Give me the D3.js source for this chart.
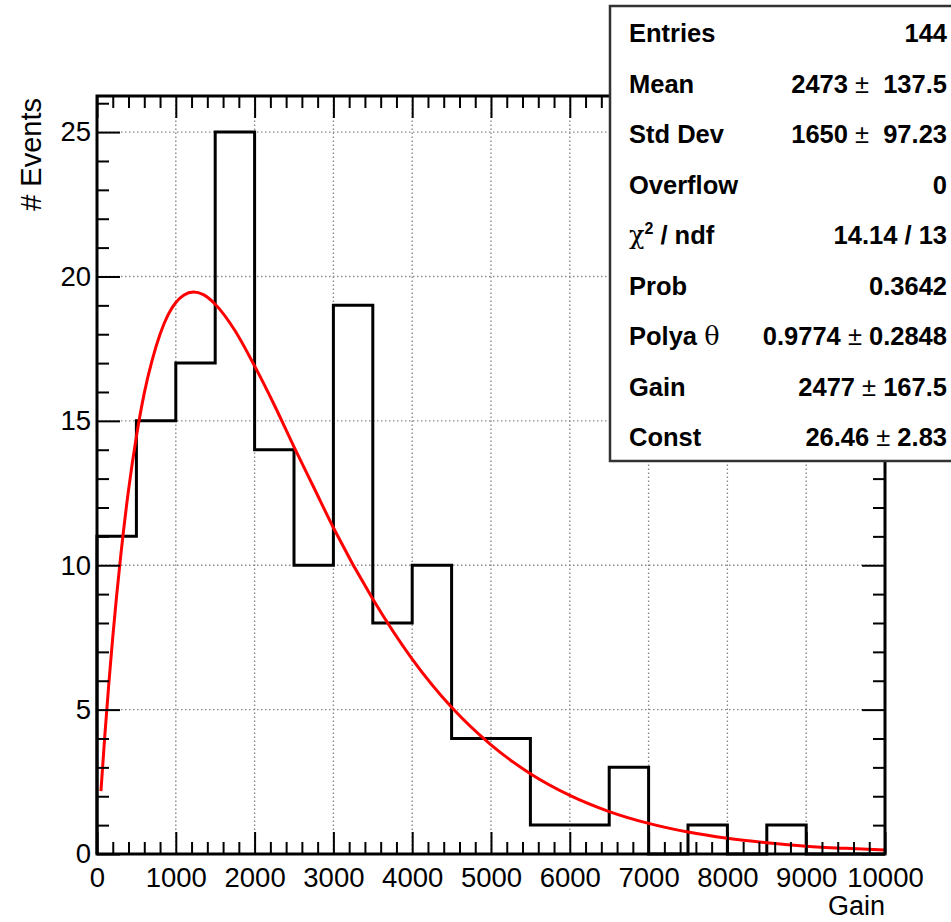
<!DOCTYPE html>
<html>
<head>
<meta charset="utf-8">
<script src="https://cdn.jsdelivr.net/npm/d3@7"></script>
<style>
  html, body { margin: 0; padding: 0; background: #fff; }
  svg { display: block; }
  text { font-family: "Liberation Sans", Arial, Helvetica, sans-serif; }
</style>
</head>
<body>
<svg id="chart" width="951" height="922"></svg>
<script>
// ---------------- DATA ----------------
const binEdges = [0,500,1000,1500,2000,2500,3000,3500,4000,4500,5000,5500,6000,6500,7000,7500,8000,8500,9000,9500,10000];
const binCounts = [11,15,17,25,14,10,19,8,10,4,4,1,1,3,0,1,0,1,0,0];

const fitX = [50,100,150,200,300,400,500,600,700,800,900,1000,1100,1224,1350,1500,1750,2000,2250,2500,2750,3000,3500,4000,4500,5000,5500,6000,6500,7000,7500,8000,8500,9000,9500,10000];
const fitY = [2.18,4.13,5.9,7.51,10.3,12.6,14.46,15.96,17.1,18.0,18.66,19.1,19.35,19.46,19.37,19.04,18.13,16.9,15.55,14.1,12.7,11.3,8.83,6.75,5.08,3.78,2.78,2.03,1.47,1.06,0.76,0.545,0.39,0.27,0.195,0.138];

const xMajorTicks = [0,1000,2000,3000,4000,5000,6000,7000,8000,9000,10000];
const yMajorTicks = [0,5,10,15,20,25];

const statLabels = ["Entries","Mean","Std Dev","Overflow","χ2 / ndf","Prob","Polya θ","Gain","Const"];
const statValues = ["144","2473 ±  137.5","1650 ±  97.23","0","14.14 / 13","0.3642","0.9774 ± 0.2848","2477 ± 167.5","26.46 ± 2.83"];

const xTitle = "Gain";
const yTitle = "# Events";

// ---------------- LAYOUT ----------------
const svg = d3.select("#chart");
const L = 97, R = 885, T = 96, B = 854;
const x = d3.scaleLinear().domain([0,10000]).range([L,R]);
const y = d3.scaleLinear().domain([0,26.25]).range([B,T]);

const xMinor = d3.range(0,10001,200).filter(v => v % 1000 !== 0);
const yMinor = d3.range(0,27,1).filter(v => v % 5 !== 0);

// grid
const grid = svg.append("g");
grid.selectAll("line.gx").data(xMajorTicks.slice(1,-1)).enter().append("line")
  .attr("x1", d => x(d)).attr("x2", d => x(d)).attr("y1", B).attr("y2", T)
  .attr("stroke", "#8a8a8a").attr("stroke-width", 1.4).attr("stroke-dasharray", "1.5,2.5");
grid.selectAll("line.gy").data(yMajorTicks.slice(1)).enter().append("line")
  .attr("x1", L).attr("x2", R).attr("y1", d => y(d)).attr("y2", d => y(d))
  .attr("stroke", "#8a8a8a").attr("stroke-width", 1.4).attr("stroke-dasharray", "1.5,2.5");

// histogram outline
const histPts = [[binEdges[0], 0]];
binCounts.forEach((c, i) => { histPts.push([binEdges[i], c]); histPts.push([binEdges[i+1], c]); });
histPts.push([binEdges[binEdges.length-1], 0]);
svg.append("path")
  .attr("d", d3.line().x(d => x(d[0])).y(d => y(d[1]))(histPts))
  .attr("fill", "none").attr("stroke", "#000").attr("stroke-width", 3)
  .attr("stroke-linejoin", "miter");

// fit curve
svg.append("path")
  .attr("d", d3.line().x((d,i) => x(fitX[i])).y((d,i) => y(fitY[i])).curve(d3.curveMonotoneX)(fitX))
  .attr("fill", "none").attr("stroke", "#ff0000").attr("stroke-width", 3);

// axes
const fs = 27.5;
function styleAxis(g) {
  g.select(".domain").remove();
  g.selectAll(".tick line").attr("stroke", "#000").attr("stroke-width", 2);
  g.selectAll(".tick text").attr("fill", "#000").attr("font-size", fs)
    .style("font-family", '"Liberation Sans", Arial, sans-serif');
}
// bottom
svg.append("g").attr("transform", `translate(0,${B})`)
  .call(d3.axisBottom(x).tickValues(xMajorTicks).tickSize(-22).tickPadding(13).tickFormat(d3.format("d")))
  .call(styleAxis);
svg.append("g").attr("transform", `translate(0,${B})`)
  .call(d3.axisBottom(x).tickValues(xMinor).tickSize(-12).tickFormat(""))
  .call(styleAxis);
// top
svg.append("g").attr("transform", `translate(0,${T})`)
  .call(d3.axisTop(x).tickValues(xMajorTicks).tickSize(-22).tickFormat(""))
  .call(styleAxis);
svg.append("g").attr("transform", `translate(0,${T})`)
  .call(d3.axisTop(x).tickValues(xMinor).tickSize(-12).tickFormat(""))
  .call(styleAxis);
// left
svg.append("g").attr("transform", `translate(${L},0)`)
  .call(d3.axisLeft(y).tickValues(yMajorTicks).tickSize(-23).tickPadding(6).tickFormat(d3.format("d")))
  .call(styleAxis);
svg.append("g").attr("transform", `translate(${L},0)`)
  .call(d3.axisLeft(y).tickValues(yMinor).tickSize(-12).tickFormat(""))
  .call(styleAxis);
// right
svg.append("g").attr("transform", `translate(${R},0)`)
  .call(d3.axisRight(y).tickValues(yMajorTicks).tickSize(-23).tickFormat(""))
  .call(styleAxis);
svg.append("g").attr("transform", `translate(${R},0)`)
  .call(d3.axisRight(y).tickValues(yMinor).tickSize(-12).tickFormat(""))
  .call(styleAxis);

// frame
svg.append("rect").attr("x", L).attr("y", T).attr("width", R-L).attr("height", B-T)
  .attr("fill", "none").attr("stroke", "#000").attr("stroke-width", 3);

// axis titles
svg.append("text").attr("x", R).attr("y", 915).attr("text-anchor", "end")
  .attr("font-size", 27).attr("fill", "#000").text(xTitle);
svg.append("text").attr("transform", `translate(41,98) rotate(-90)`).attr("text-anchor", "end")
  .attr("font-size", 29).attr("fill", "#000").text(yTitle);

// stats box
const box = svg.append("g");
box.append("rect").attr("x", 610).attr("y", 6).attr("width", 400).attr("height", 455)
  .attr("fill", "#fff").attr("stroke", "#333").attr("stroke-width", 2.5);
const rowY = d3.scaleLinear().domain([0, statLabels.length-1]).range([33, 437]);
const sfs = 25.5;
statLabels.forEach((lab, i) => {
  const t = box.append("text").attr("x", 629).attr("y", rowY(i) + 0.36*sfs)
    .attr("font-size", sfs).attr("font-weight", "bold").attr("fill", "#000");
  if (lab.startsWith("χ2")) {
    t.append("tspan").attr("font-weight", "normal").attr("font-family", '"DejaVu Serif", serif').text("χ");
    t.append("tspan").attr("font-size", 16).attr("dy", -10).text("2");
    t.append("tspan").attr("dy", 10).text(" / ndf");
  } else if (lab.includes("θ")) {
    t.append("tspan").text("Polya ");
    t.append("tspan").attr("font-weight", "normal").attr("font-family", '"DejaVu Serif", serif').text("θ");
  } else {
    t.text(lab);
  }
  const v = box.append("text").attr("x", 947).attr("y", rowY(i) + 0.36*sfs)
    .attr("text-anchor", "end").attr("font-size", sfs).attr("font-weight", "bold").attr("fill", "#000")
    .attr("xml:space", "preserve").style("white-space", "pre");
  const val = statValues[i];
  if (val.includes("±")) {
    const parts = val.split("±");
    v.append("tspan").text(parts[0]);
    v.append("tspan").attr("font-weight", "normal").text("±");
    v.append("tspan").text(parts[1]);
  } else {
    v.text(val);
  }
});
</script>
</body>
</html>
